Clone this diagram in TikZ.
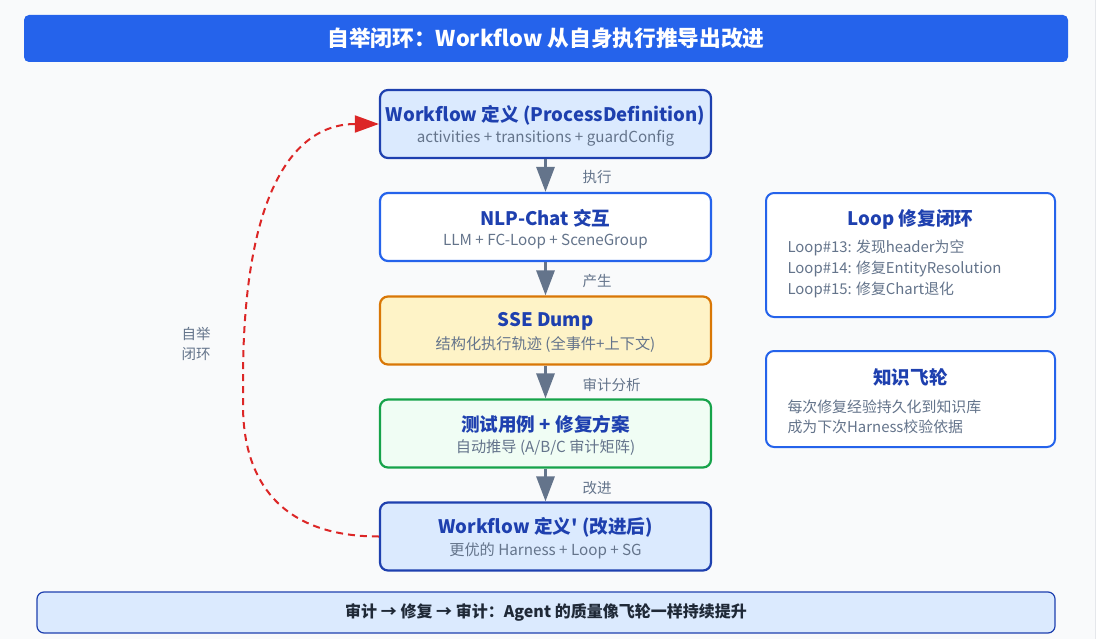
\documentclass[tikz,border=0pt]{standalone}
\usepackage{fontspec}
\setmainfont{Noto Sans CJK SC}[Ligatures=TeXOff]
\usetikzlibrary{arrows.meta}
\definecolor{bgc}{HTML}{F9FAFB}
\definecolor{edgec}{HTML}{E5E7EB}
\definecolor{titleblue}{HTML}{2563EB}
\definecolor{darkblue}{HTML}{1E40AF}
\definecolor{lightblue}{HTML}{DBEAFE}
\definecolor{subgray}{HTML}{64748B}
\definecolor{arrowgray}{HTML}{64748B}
\definecolor{ambfill}{HTML}{FEF3C7}
\definecolor{ambdraw}{HTML}{D97706}
\definecolor{grnfill}{HTML}{F0FDF4}
\definecolor{grndraw}{HTML}{16A34A}
\definecolor{loopred}{HTML}{DC2626}
\definecolor{bannertext}{HTML}{1F2937}
\begin{document}
\begin{tikzpicture}[x=1pt,y=-1pt,
  flowbox/.style={rounded corners=8pt,line width=2.2pt,minimum width=331pt,minimum height=68pt,inner sep=0pt},
  sidebox/.style={rounded corners=8pt,line width=2pt,draw=titleblue,fill=white},
  ttl/.style={font=\fontsize{18.6}{22}\selectfont\bfseries,text=darkblue},
  sub/.style={font=\fontsize{15.2}{18}\selectfont,text=subgray},
  flowarrow/.style={-{Triangle[width=18pt,length=25pt]},line width=3pt,draw=arrowgray},
  elabel/.style={font=\fontsize{14.5}{17}\selectfont,text=subgray,anchor=west},
  sideline/.style={font=\fontsize{14.9}{18}\selectfont,text=subgray,anchor=west}]
\useasboundingbox (0,0) rectangle (1099,639);
\fill[white] (0,0) rectangle (1099,639);
\fill[bgc] (0,0) rectangle (1095,639);
\draw[edgec,line width=1pt] (1095.5,0) -- (1095.5,639);
% title
\node[fill=titleblue,rounded corners=5pt,minimum width=1044pt,minimum height=47pt,inner sep=0pt,
  text=white,font=\fontsize{21.7}{26}\selectfont\bfseries] (title) at (546,38.5) {自举闭环：Workflow 从自身执行推导出改进};
% flow boxes
\node[flowbox,draw=darkblue,fill=lightblue] (b1) at (545.5,124) {};
\node[ttl] (b1t) at (545.5,115) {Workflow 定义 (ProcessDefinition)};
\node[sub] (b1s) at (545.5,138.5) {activities + transitions + guardConfig};
\node[flowbox,draw=titleblue,fill=white] (b2) at (545.5,227) {};
\node[ttl] (b2t) at (545.5,218) {NLP-Chat 交互};
\node[sub] (b2s) at (545.5,241.5) {LLM + FC-Loop + SceneGroup};
\node[flowbox,draw=ambdraw,fill=ambfill] (b3) at (545.5,330.5) {};
\node[ttl] (b3t) at (545.5,321) {SSE Dump};
\node[sub] (b3s) at (545.5,344.5) {结构化执行轨迹 (全事件+上下文)};
\node[flowbox,draw=grndraw,fill=grnfill] (b4) at (545.5,433.5) {};
\node[ttl] (b4t) at (545.5,424) {测试用例 + 修复方案};
\node[sub] (b4s) at (545.5,447.5) {自动推导 (A/B/C 审计矩阵)};
\node[flowbox,draw=darkblue,fill=lightblue] (b5) at (545.5,536.5) {};
\node[ttl] (b5t) at (545.5,527) {Workflow 定义' (改进后)};
\node[sub] (b5s) at (545.5,550.5) {更优的 Harness + Loop + SG};
% flow arrows
\draw[flowarrow] (b1.south) -- (b2.north);
\draw[flowarrow] (b2.south) -- (b3.north);
\draw[flowarrow] (b3.south) -- (b4.north);
\draw[flowarrow] (b4.south) -- (b5.north);
\node[elabel] (l1) at (579,177) {执行};
\node[elabel] (l2) at (579,281) {产生};
\node[elabel] (l3) at (579,385) {审计分析};
\node[elabel] (l4) at (579,488) {改进};
% loop back
\coordinate (lm1) at (243,405);
\coordinate (lm2) at (243,380);
\draw[loopred,line width=2pt,dash pattern=on 7pt off 5pt,-{Triangle[width=17pt,length=24pt]}]
  (b5.west) .. controls (280,536.5) and (243,480) .. (lm1) -- (lm2)
  .. controls (243,200) and (290,124) .. (b1.west);
\node[font=\fontsize{14.5}{20}\selectfont,text=subgray,align=center] (loopl) at (196,344) {自举\\闭环};
% side boxes
\node[sidebox,minimum width=289pt,minimum height=124pt,inner sep=0pt] (sa) at (910.5,255) {};
\node[ttl] (sat) at (910.5,219) {Loop 修复闭环};
\node[sideline] (sa1) at (784,247.5) {Loop\#13: 发现header为空};
\node[sideline] (sa2) at (784,268.5) {Loop\#14: 修复EntityResolution};
\node[sideline] (sa3) at (784,289.5) {Loop\#15: 修复Chart退化};
\node[sidebox,minimum width=289pt,minimum height=96pt,inner sep=0pt] (sb) at (910.5,399) {};
\node[ttl] (sbt) at (910.5,377) {知识飞轮};
\node[sideline] (sb1) at (784,406.5) {每次修复经验持久化到知识库};
\node[sideline] (sb2) at (784,426.5) {成为下次Harness校验依据};
% banner
\node[draw=darkblue,fill=lightblue,line width=1.2pt,rounded corners=7pt,minimum width=1018pt,minimum height=41pt,inner sep=0pt,
  text=bannertext,font=\fontsize{16}{19}\selectfont\bfseries] (banner) at (546,612.5) {审计 → 修复 → 审计：Agent 的质量像飞轮一样持续提升};
\end{tikzpicture}
\end{document}
